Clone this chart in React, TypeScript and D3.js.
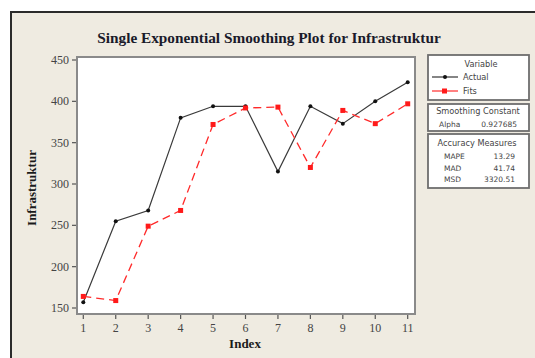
import React from "react";
import * as d3 from "d3";

// Observation index and series values
const indexValues = [1, 2, 3, 4, 5, 6, 7, 8, 9, 10, 11];
const actualValues = [157, 255, 268, 380, 394, 394, 315, 394, 373, 400, 423];
const fitValues = [164, 159, 249, 268, 372, 392, 393, 320, 389, 373, 397];
const yTicks = [150, 200, 250, 300, 350, 400, 450];

const legendTitle = "Variable";
const seriesNames = ["Actual", "Fits"];
const smoothingTitle = "Smoothing Constant";
const smoothingRows = [["Alpha", "0.927685"]];
const accuracyTitle = "Accuracy Measures";
const accuracyRows = [
  ["MAPE", "13.29"],
  ["MAD", "41.74"],
  ["MSD", "3320.51"],
];

const W = 535;
const H = 358;
const plot = { left: 77, top: 57, right: 415, bottom: 314 };
const serif = "'Liberation Serif', 'Times New Roman', serif";
const sans = "'DejaVu Sans', Verdana, sans-serif";

export default function App() {
  const x = d3.scaleLinear().domain([1, 11]).range([83.3, 407.7]);
  const y = d3.scaleLinear().domain([150, 450]).range([308, 60]);

  const line = d3
    .line<number>()
    .x((_, i) => x(indexValues[i]))
    .y((d) => y(d));

  const box1 = { x: 428, y: 55, w: 101, h: 45 };
  const box2 = { x: 428, y: 104, w: 101, h: 27 };
  const box3 = { x: 428, y: 134, w: 101, h: 54 };

  return (
    <svg
      width={W}
      height={H}
      style={{ position: "absolute", left: 0, top: 0 }}
    >
      <rect x={0} y={0} width={W} height={H} fill="#ffffff" />
      <rect x={11} y={12} width={W + 20} height={H + 20} fill="#EFEBE1" stroke="#2b2b2b" strokeWidth={2} />

      <text
        x={269}
        y={43}
        textAnchor="middle"
        fontFamily={serif}
        fontWeight="bold"
        fontSize={15.3}
        fill="#1a1a2a"
      >
        Single Exponential Smoothing Plot for Infrastruktur
      </text>

      {/* plot area */}
      <rect
        x={plot.left}
        y={plot.top}
        width={plot.right - plot.left}
        height={plot.bottom - plot.top}
        fill="#ffffff"
        stroke="#8a8a8a"
        strokeWidth={2}
      />

      {/* y axis */}
      {yTicks.map((t) => (
        <g key={t}>
          <line x1={72} x2={plot.left - 1} y1={y(t)} y2={y(t)} stroke="#555" strokeWidth={1.2} />
          <text
            x={69}
            y={y(t) + 4}
            textAnchor="end"
            fontFamily={serif}
            fontSize={12}
            fill="#444"
          >
            {t}
          </text>
        </g>
      ))}
      <text
        transform={`translate(36,188) rotate(-90)`}
        textAnchor="middle"
        fontFamily={serif}
        fontWeight="bold"
        fontSize={13}
        fill="#1a1a1a"
      >
        Infrastruktur
      </text>

      {/* x axis */}
      {indexValues.map((t) => (
        <g key={t}>
          <line x1={x(t)} x2={x(t)} y1={plot.bottom + 1} y2={plot.bottom + 5} stroke="#555" strokeWidth={1.2} />
          <text
            x={x(t)}
            y={332}
            textAnchor="middle"
            fontFamily={serif}
            fontSize={12}
            fill="#444"
          >
            {t}
          </text>
        </g>
      ))}
      <text
        x={245}
        y={348}
        textAnchor="middle"
        fontFamily={serif}
        fontWeight="bold"
        fontSize={13}
        fill="#1a1a1a"
      >
        Index
      </text>

      {/* series */}
      <path d={line(actualValues) ?? ""} fill="none" stroke="#3a3a3a" strokeWidth={1.2} />
      <path
        d={line(fitValues) ?? ""}
        fill="none"
        stroke="#ff2a2a"
        strokeWidth={1.3}
        strokeDasharray="8,5"
      />
      {actualValues.map((v, i) => (
        <circle key={`a${i}`} cx={x(indexValues[i])} cy={y(v)} r={2} fill="#111" />
      ))}
      {fitValues.map((v, i) => (
        <rect
          key={`f${i}`}
          x={x(indexValues[i]) - 2.5}
          y={y(v) - 2.5}
          width={5}
          height={5}
          fill="#ff1a1a"
        />
      ))}

      {/* legend: variables */}
      <rect x={box1.x} y={box1.y} width={box1.w} height={box1.h} fill="#fff" stroke="#6e6e6e" strokeWidth={1.8} />
      <text x={481} y={67} textAnchor="middle" fontFamily={sans} fontSize={8.2} fill="#444">
        {legendTitle}
      </text>
      {seriesNames.map((name, i) => {
        const ly = 77 + i * 14;
        const isFit = i === 1;
        return (
          <g key={name}>
            <line x1={432} x2={458} y1={ly} y2={ly} stroke={isFit ? "#ff2a2a" : "#333"} strokeWidth={1.2} />
            {isFit ? (
              <rect x={442} y={ly - 2.5} width={5} height={5} fill="#ff1a1a" />
            ) : (
              <circle cx={445} cy={ly} r={2} fill="#111" />
            )}
            <text x={463} y={ly + 3} fontFamily={sans} fontSize={8.2} fill="#444">
              {name}
            </text>
          </g>
        );
      })}

      {/* legend: smoothing constant */}
      <rect x={box2.x} y={box2.y} width={box2.w} height={box2.h} fill="#fff" stroke="#6e6e6e" strokeWidth={1.8} />
      <text x={478} y={114} textAnchor="middle" fontFamily={sans} fontSize={8.2} fill="#444">
        {smoothingTitle}
      </text>
      {smoothingRows.map(([k, v], i) => (
        <g key={k}>
          <text x={439} y={127 + i * 12} fontFamily={sans} fontSize={7.5} fill="#444">
            {k}
          </text>
          <text x={517} y={127 + i * 12} textAnchor="end" fontFamily={sans} fontSize={7.5} fill="#444">
            {v}
          </text>
        </g>
      ))}

      {/* legend: accuracy measures */}
      <rect x={box3.x} y={box3.y} width={box3.w} height={box3.h} fill="#fff" stroke="#6e6e6e" strokeWidth={1.8} />
      <text x={477} y={146} textAnchor="middle" fontFamily={sans} fontSize={8.2} fill="#444">
        {accuracyTitle}
      </text>
      {accuracyRows.map(([k, v], i) => (
        <g key={k}>
          <text x={444} y={159 + i * 11.5} fontFamily={sans} fontSize={7.5} fill="#444">
            {k}
          </text>
          <text x={515} y={159 + i * 11.5} textAnchor="end" fontFamily={sans} fontSize={7.5} fill="#444">
            {v}
          </text>
        </g>
      ))}
    </svg>
  );
}
